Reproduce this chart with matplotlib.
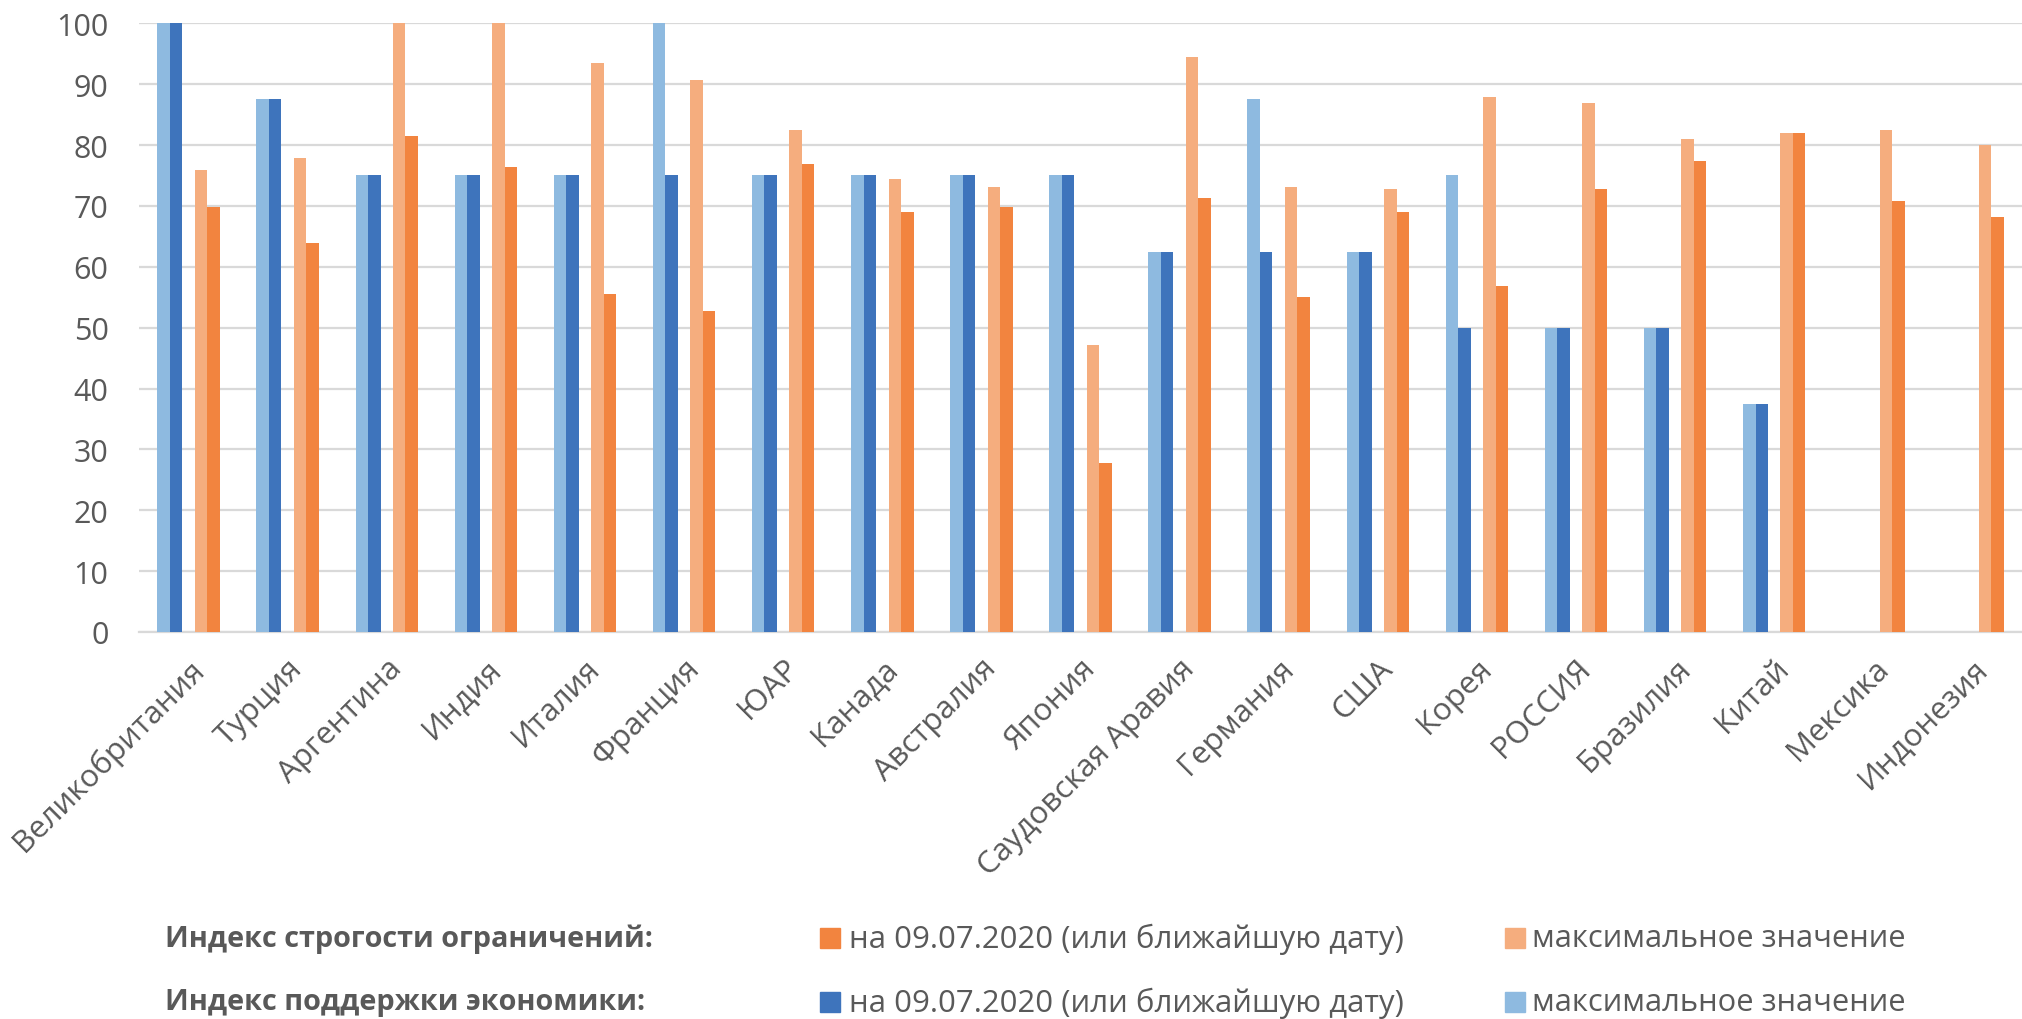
import numpy as np
import matplotlib
matplotlib.use("Agg")
import matplotlib.pyplot as plt
from matplotlib.patches import Rectangle

# ==================== шрифт ====================
plt.rcParams['font.family'] = ['Open Sans', 'DejaVu Sans']
TEXT_COLOR = '#595959'
GRID_COLOR = '#D9D9D9'

# ==================== данные ====================
countries = ["Великобритания", "Турция", "Аргентина", "Индия", "Италия", "Франция",
             "ЮАР", "Канада", "Австралия", "Япония", "Саудовская Аравия", "Германия",
             "США", "Корея", "РОССИЯ", "Бразилия", "Китай", "Мексика", "Индонезия"]

# индекс поддержки экономики
econ_max = [100, 87.5, 75, 75, 75, 100, 75, 75, 75, 75, 62.5, 87.5, 62.5, 75, 50, 50, 37.5,
            np.nan, np.nan]
econ_now = [100, 87.5, 75, 75, 75, 75, 75, 75, 75, 75, 62.5, 62.5, 62.5, 50, 50, 50, 37.5,
            np.nan, np.nan]

# индекс строгости ограничений
strict_max = [75.9, 77.8, 100, 100, 93.5, 90.7, 82.4, 74.5, 73.1, 47.2, 94.4, 73.1, 72.7,
              87.9, 86.9, 81.0, 81.9, 82.4, 80.0]
strict_now = [69.9, 63.9, 81.5, 76.4, 55.6, 52.8, 76.9, 69.0, 69.9, 27.8, 71.3, 55.1, 69.0,
              56.9, 72.7, 77.3, 81.9, 70.8, 68.1]

y_ticks = [0, 10, 20, 30, 40, 50, 60, 70, 80, 90, 100]

c_econ_max = '#8EBAE0'
c_econ_now = '#3E74BC'
c_strict_max = '#F5AD7E'
c_strict_now = '#F2843F'

# ==================== график ====================
fig = plt.figure(figsize=(20.22, 10.2), dpi=100)
ax = fig.add_axes([139 / 2022, 387 / 1020, 1883 / 2022, 608.7 / 1020])

x = np.arange(len(countries))
w = 0.126
ax.bar(x - 2 * w, econ_max, w, color=c_econ_max, zorder=3)
ax.bar(x - w, econ_now, w, color=c_econ_now, zorder=3)
ax.bar(x + w, strict_max, w, color=c_strict_max, zorder=3)
ax.bar(x + 2 * w, strict_now, w, color=c_strict_now, zorder=3)

ax.set_xlim(-0.5, len(countries) - 0.5)
ax.set_ylim(0, 100)
ax.set_yticks(y_ticks)
ax.yaxis.grid(True, color=GRID_COLOR, linewidth=1.6, zorder=0)
ax.set_axisbelow(True)

for s in ['top', 'right', 'left']:
    ax.spines[s].set_visible(False)
ax.spines['bottom'].set_color(GRID_COLOR)
ax.spines['bottom'].set_linewidth(1.6)

ax.set_xticks(x)
ax.set_xticklabels(countries, rotation=45, ha='right', rotation_mode='anchor')
ax.tick_params(axis='both', length=0, labelsize=22, colors=TEXT_COLOR)
ax.tick_params(axis='x', labelsize=22.5, pad=15)
ax.tick_params(axis='y', pad=22)

# ==================== легенда ====================
rows = [
    (939, "Индекс строгости ограничений:", c_strict_now, c_strict_max),
    (1003, "Индекс поддержки экономики:", c_econ_now, c_econ_max),
]
for yc, title, c_now, c_max in rows:
    yf = 1 - yc / 1020
    fig.text(165 / 2022, yf, title, fontsize=20.8, fontweight='bold',
             color=TEXT_COLOR, va='center', ha='left')
    fig.add_artist(Rectangle((820 / 2022, yf - 10 / 1020), 20 / 2022, 20 / 1020,
                             transform=fig.transFigure, color=c_now))
    fig.text(849 / 2022, yf, "на 09.07.2020 (или ближайшую дату)", fontsize=22.4,
             color=TEXT_COLOR, va='center', ha='left')
    fig.add_artist(Rectangle((1505 / 2022, yf - 10 / 1020), 20 / 2022, 20 / 1020,
                             transform=fig.transFigure, color=c_max))
    fig.text(1532 / 2022, yf, "максимальное значение", fontsize=22.2,
             color=TEXT_COLOR, va='center', ha='left')

fig.savefig("out.png", dpi=100)
